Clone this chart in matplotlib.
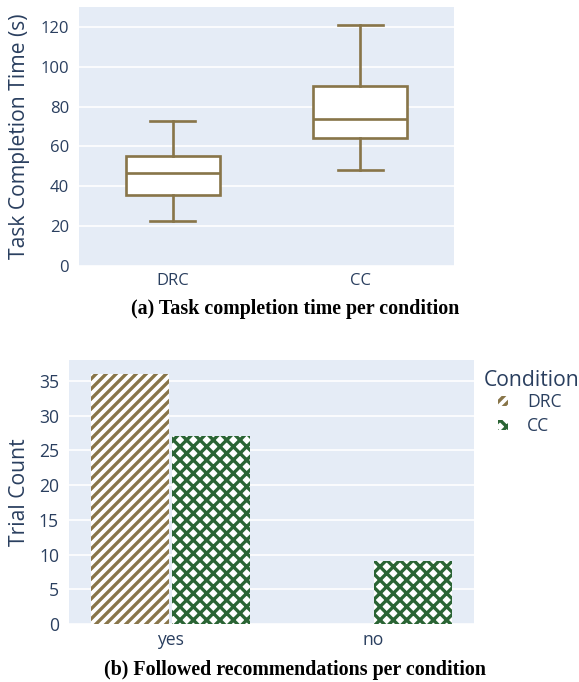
import matplotlib
matplotlib.use("Agg")
import matplotlib.pyplot as plt
from matplotlib.patches import Patch

# ---- data ----
conditions = ["DRC", "CC"]
whisker_lo = [22.6, 48.4]
q1 = [35.8, 64.4]
medians = [46.6, 73.7]
q3 = [55.4, 90.2]
whisker_hi = [73.0, 121.0]

followed = ["yes", "no"]
drc_counts = [36, 0]
cc_counts = [27, 9]

time_ticks = [0, 20, 40, 60, 80, 100, 120]
count_ticks = [0, 5, 10, 15, 20, 25, 30, 35]

BROWN = "#887549"
GREEN = "#2a6434"
TXT = "#2a3f5f"
BG = "#e5ecf6"

plt.rcParams["font.family"] = ["Open Sans", "DejaVu Sans"]
plt.rcParams["hatch.linewidth"] = 2.0

W, H = 579, 682
DPI = 120
fig = plt.figure(figsize=(W / DPI, H / DPI), dpi=DPI)


def px_axes(l, t, r, b):
    return fig.add_axes([l / W, 1 - b / H, (r - l) / W, (b - t) / H])


def style(ax, fs):
    ax.set_facecolor(BG)
    for s in ax.spines.values():
        s.set_visible(False)
    ax.grid(axis="y", color="white", linewidth=1.0)
    ax.set_axisbelow(True)
    ax.tick_params(axis="y", length=0, labelsize=fs, labelcolor=TXT, pad=6)
    ax.tick_params(axis="x", length=0, labelsize=fs, labelcolor=TXT, pad=4)


# ---- (a) box plot ----
ax1 = px_axes(79, 7, 454, 266)
style(ax1, 10)
stats = []
for i, c in enumerate(conditions):
    stats.append(dict(label=c, whislo=whisker_lo[i], q1=q1[i], med=medians[i],
                      q3=q3[i], whishi=whisker_hi[i], fliers=[]))
lp = dict(color=BROWN, linewidth=1.6)
ax1.bxp(stats, positions=[0, 1], widths=0.5, capwidths=0.24, patch_artist=True,
        boxprops=dict(facecolor="white", edgecolor=BROWN, linewidth=1.6),
        medianprops=lp, whiskerprops=lp, capprops=lp, showfliers=False)
ax1.set_xlim(-0.5, 1.5)
ax1.set_ylim(0, 130)
ax1.set_yticks(time_ticks)
fig.text(20 / W, 1 - 136 / H, "Task Completion Time (s)", rotation=90,
         fontsize=12.7, color=TXT, ha="center", va="center")
fig.text(295 / W, 1 - 309 / H, "(a) Task completion time per condition",
         family="Liberation Serif", weight="bold", fontsize=12,
         ha="center", va="center", color="black")

# ---- (b) grouped bars ----
ax2 = px_axes(69, 360, 474, 624)
style(ax2, 10.5)
xs = range(len(followed))
ax2.bar([x - 0.2 for x in xs], drc_counts, width=0.383, facecolor="white",
        edgecolor=BROWN, hatch="////", linewidth=0)
ax2.bar([x + 0.2 for x in xs], cc_counts, width=0.383, facecolor="white",
        edgecolor=GREEN, hatch="xxx", linewidth=0)
ax2.set_xticks(list(xs))
ax2.set_xticklabels(followed)
ax2.set_xlim(-0.5, 1.5)
ax2.set_ylim(0, 38)
ax2.set_yticks(count_ticks)
fig.text(20 / W, 1 - 492 / H, "Trial Count", rotation=90,
         fontsize=12.7, color=TXT, ha="center", va="center")

fig.text(484 / W, 1 - 381 / H, "Condition", fontsize=12.7, color=TXT,
         ha="left", va="center")
handles = [Patch(facecolor="white", edgecolor=BROWN, hatch="////", linewidth=0, label="DRC"),
           Patch(facecolor="white", edgecolor=GREEN, hatch="xxx", linewidth=0, label="CC")]
leg = fig.legend(handles=handles, loc="upper left",
                 bbox_to_anchor=(498 / W, 1 - 393 / H), frameon=False,
                 fontsize=10.5, handlelength=0.55, handleheight=0.55,
                 handletextpad=1.1, labelspacing=0.35, borderpad=0,
                 borderaxespad=0)
for t in leg.get_texts():
    t.set_color(TXT)

fig.text(295 / W, 1 - 670 / H, "(b) Followed recommendations per condition",
         family="Liberation Serif", weight="bold", fontsize=12,
         ha="center", va="center", color="black")

fig.savefig("out.png", dpi=DPI, facecolor="white")
